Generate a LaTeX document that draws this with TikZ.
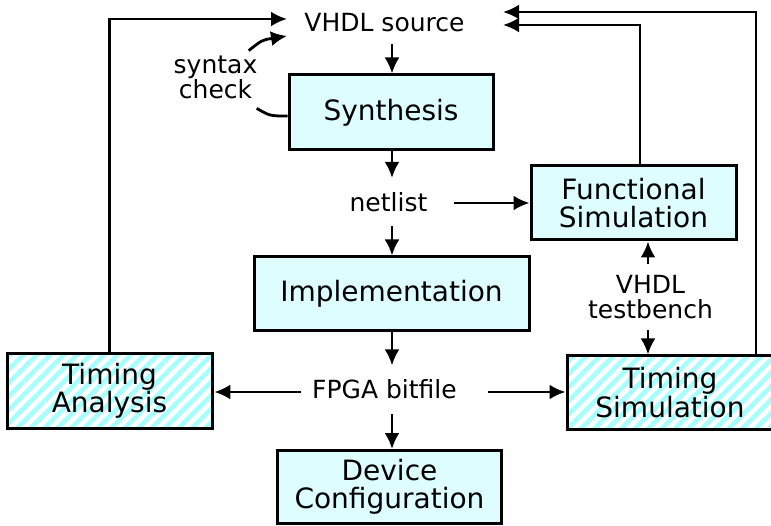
\documentclass[tikz,border=0pt]{standalone}
\usepackage{fontspec}
\setmainfont{DejaVu Sans}
\usetikzlibrary{arrows.meta}
\usetikzlibrary{patterns.meta}
\definecolor{boxfill}{RGB}{221,253,255}
\definecolor{stripe}{RGB}{166,255,255}

\begin{document}
\begin{tikzpicture}[x=1pt, y=-1pt, >={Latex[length=16pt,width=15pt]}, line width=2.8pt,
    txt/.style={font=\fontsize{25}{25}\selectfont, align=center, inner sep=0pt},
    stage/.style={font=\fontsize{28}{28.5}\selectfont, align=center, draw=black, line width=3pt, fill=boxfill},
    hatched/.style={font=\fontsize{28}{28.5}\selectfont, align=center, draw=black, line width=3pt,
        pattern={Lines[angle=45, distance=9.5pt, line width=4.6pt]}, pattern color=stripe}]
    \useasboundingbox (0,0) rectangle (771,526);
    % boxes
    \node[stage, minimum width=204, minimum height=75](synth) at (391,112.5) {Synthesis};
    \node[stage, minimum width=205, minimum height=74](func) at (633.5,203) {Functional\\Simulation};
    \node[stage, minimum width=275, minimum height=74](impl) at (391.5,294) {Implementation};
    \node[stage, minimum width=224, minimum height=73](dev) at (389.5,487) {Device\\Configuration};
    \node[hatched, minimum width=205, minimum height=74](tana) at (109.5,391) {Timing\\Analysis};
    \node[hatched, minimum width=206, minimum height=73](tsim) at (670,392.5) {Timing\\Simulation};
    % plain texts
    \node[txt, inner ysep=11pt](src) at (384.5,22.6) {VHDL source};
    \node[txt, inner ysep=13pt](net) at (388.5,202) {netlist};
    \node[txt, inner ysep=13pt](bit) at (384.5,389.5) {FPGA bitfile};
    \node[txt, inner ysep=10pt](tb) at (650.5,297) {VHDL\\testbench};
    \node[txt](chk) at (215.5,77.5) {syntax\\check};
    % entry points at the source
    \coordinate (inA) at (287,19);
    \coordinate (inS) at (287,36);
    \coordinate (inT) at (503,12);
    \coordinate (inF) at (503,25);
    % main flow
    \draw[->] (src.south -| 392,0) -- (synth.north -| 392,0);
    \draw[->] (synth.south -| 392,0) -- (net.north -| 392,0);
    \draw[->] (net.south -| 392,0) -- (impl.north -| 392,0);
    \draw[->] (impl.south -| 392,0) -- (bit.north -| 392,0);
    \draw[->] (bit.south -| 392,0) -- (dev.north -| 392,0);
    \draw[->] ([xshift=25]net.east |- func.west) -- (func.west);
    \draw[->] ([xshift=-10]bit.west |- 0,392) -- (tana.east |- 0,392);
    \draw[->] ([xshift=30]bit.east |- 0,392) -- (tsim.west |- 0,392);
    \draw[->] ([xshift=-2.5]tb.north) -- ([xshift=-2.5]tb.north |- func.south);
    \draw[->] ([xshift=-2.5]tb.south) -- ([xshift=-2.5]tb.south |- tsim.north);
    % feedback
    \draw[->] (tana.north) |- (inA);
    \draw[->] ([xshift=6.5]func.north) |- (inF);
    \draw[->] ([xshift=86]tsim.north) |- (inT);
    \draw ([yshift=-3.5]synth.west) .. controls (270,116) .. ([shift={(-2,8)}]chk.south east);
    \draw[->] ([shift={(-10,-4)}]chk.north east) .. controls (262,40) .. (inS);
\end{tikzpicture}
\end{document}
